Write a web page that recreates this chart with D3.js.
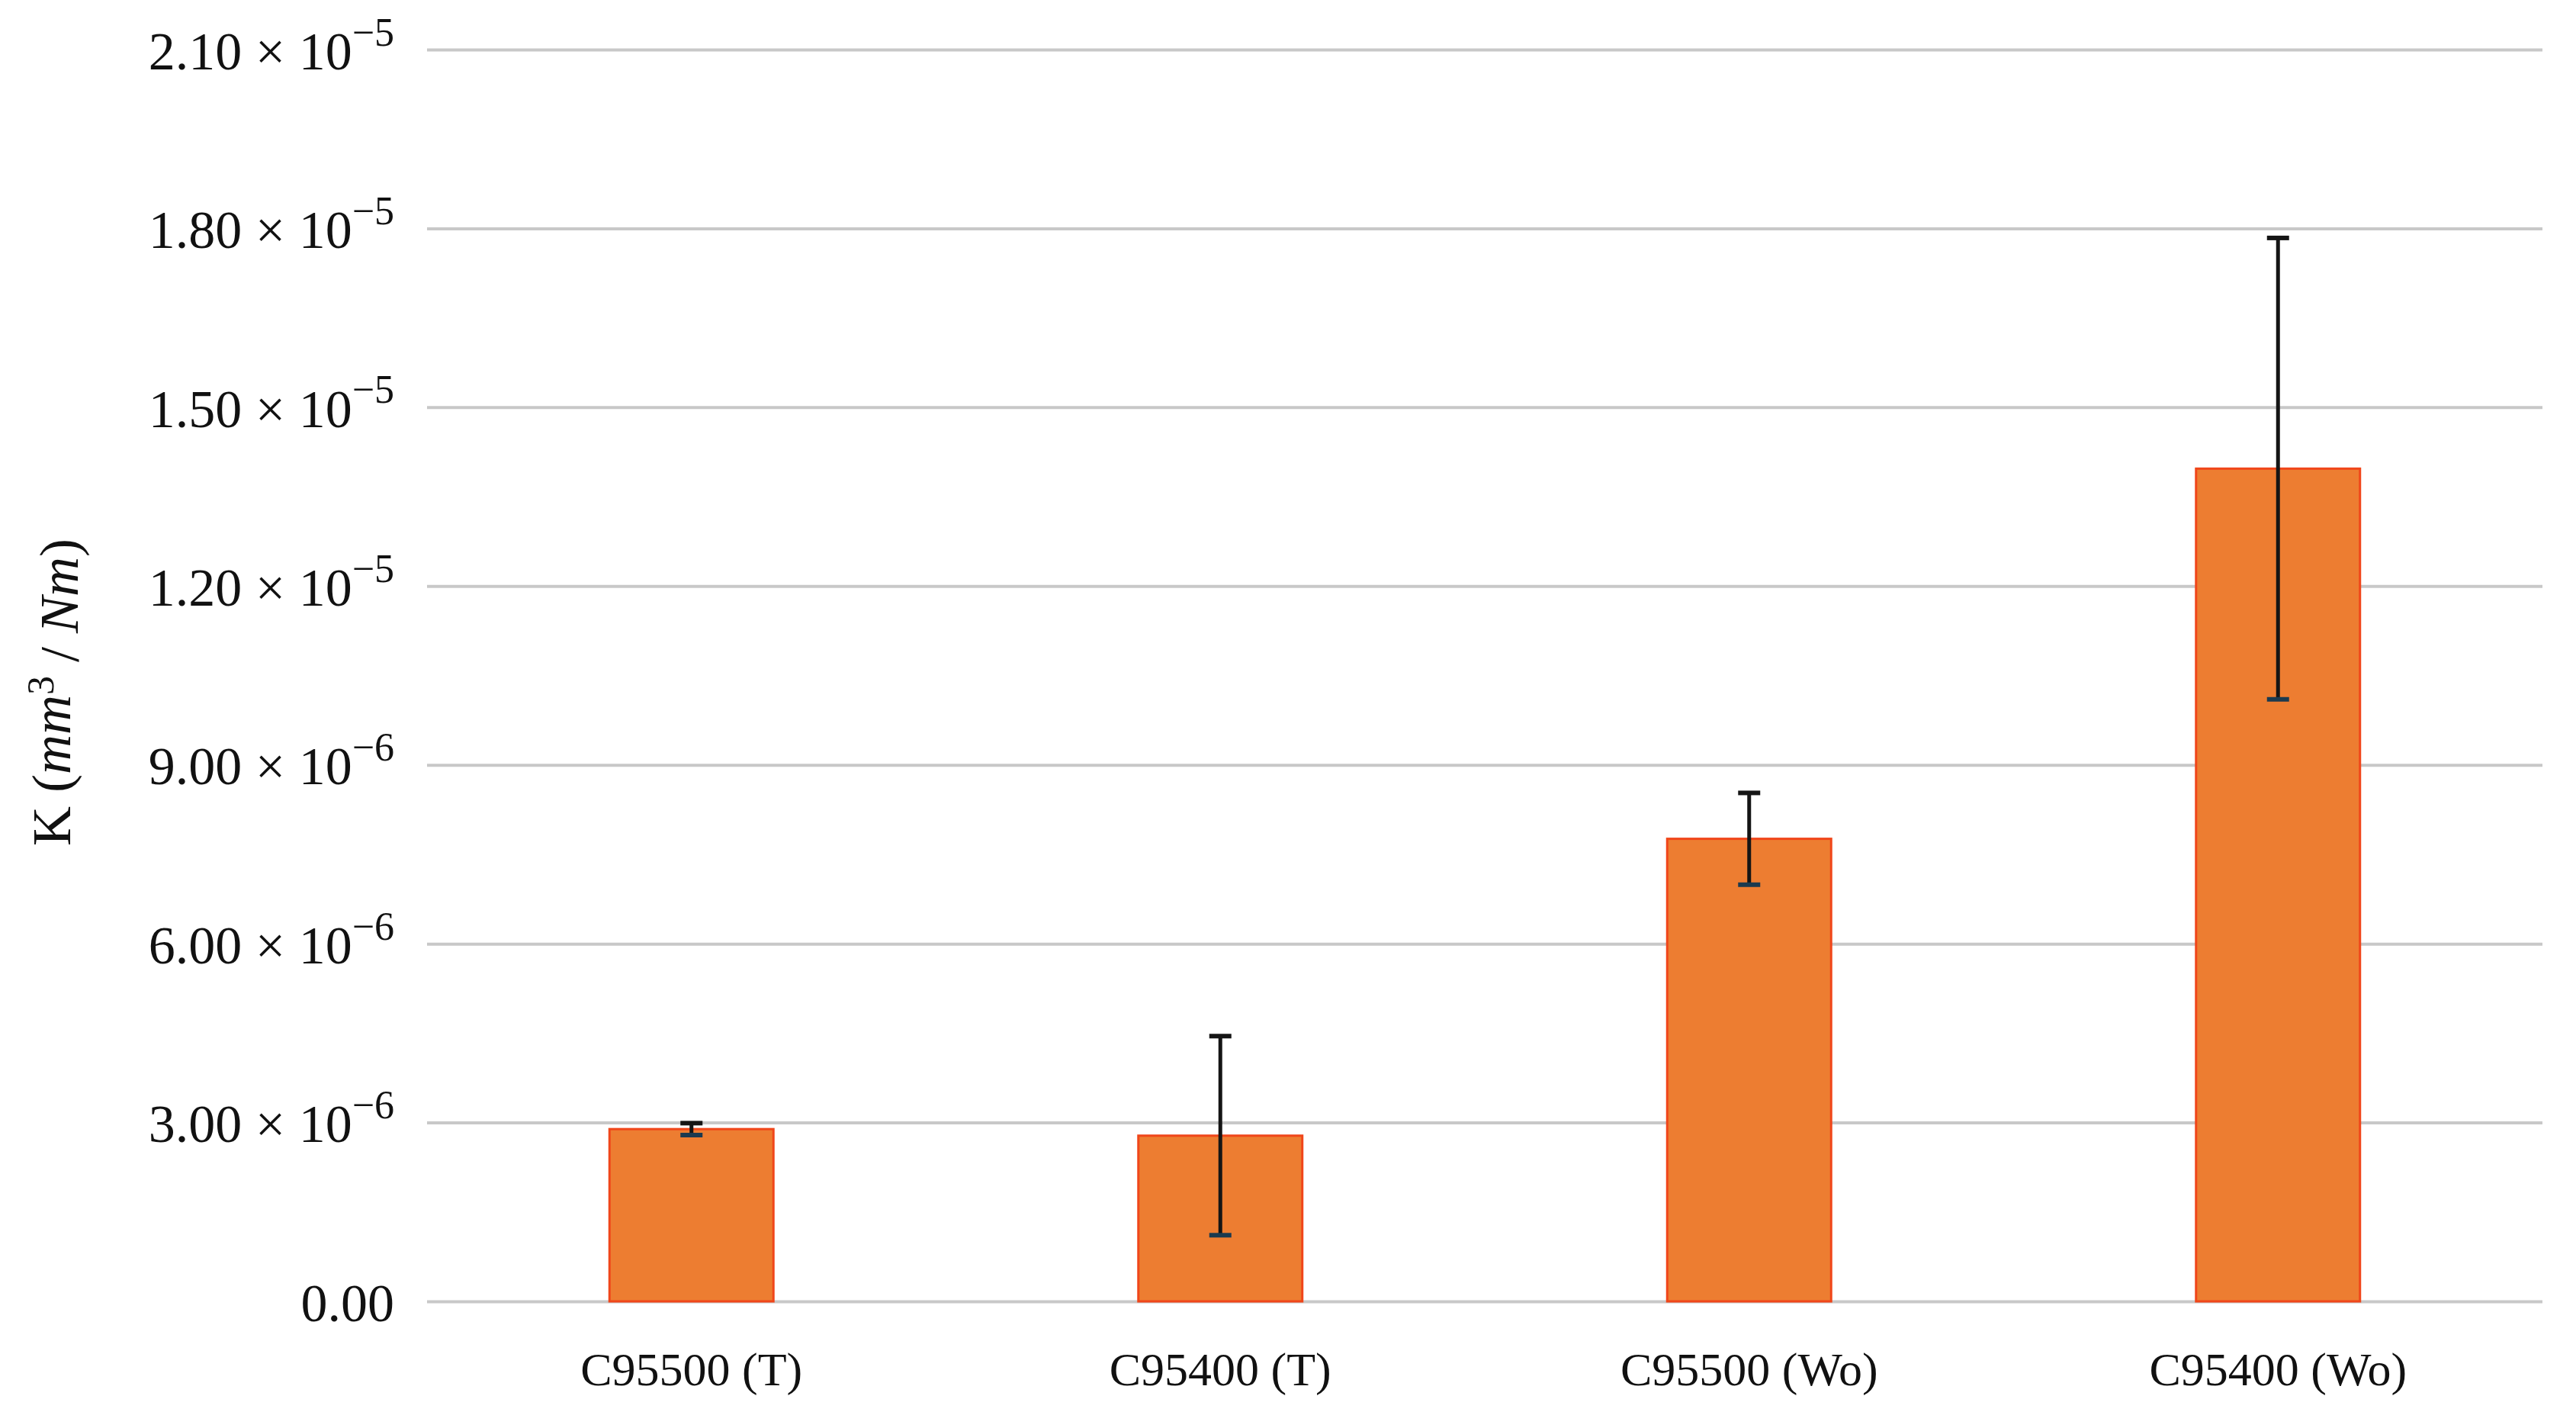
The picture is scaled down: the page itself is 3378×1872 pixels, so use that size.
<!DOCTYPE html>
<html>
<head>
<meta charset="utf-8">
<script src="https://cdn.jsdelivr.net/npm/d3@7"></script>
<style>
  body { margin: 0; background: #fff; }
  svg { display: block; }
</style>
</head>
<body>
<svg id="chart" width="3378" height="1872"></svg>
<script>
// data
const categories = ["C95500 (T)", "C95400 (T)", "C95500 (Wo)", "C95400 (Wo)"];
const values     = [2.89e-6, 2.78e-6, 7.76e-6, 1.397e-5];
const errors     = [0.10e-6, 1.67e-6, 0.77e-6, 3.87e-6];
const tickValues = [0, 3e-6, 6e-6, 9e-6, 1.2e-5, 1.5e-5, 1.8e-5, 2.1e-5];
const tickMant   = ["0.00", "3.00", "6.00", "9.00", "1.20", "1.50", "1.80", "2.10"];
const tickExp    = [null, "−6", "−6", "−6", "−5", "−5", "−5", "−5"];

const svg    = d3.select("#chart"),
      margin = {top: 65, right: 44, bottom: 166, left: 560},
      width  = +svg.attr("width")  - margin.left - margin.right,
      height = +svg.attr("height") - margin.top  - margin.bottom,
      x      = d3.scaleBand().domain(categories).range([0, width]),
      y      = d3.scaleLinear().domain([0, 2.1e-5]).range([height, 0]),
      g      = svg.append("g")
                  .attr("transform", `translate(${margin.left},${margin.top})`);

const font = "'Liberation Serif', 'DejaVu Serif', serif";
const barW = x.bandwidth() * 0.31;

// gridlines + y labels
const yAxis = g.append("g")
    .attr("class", "axis axis-y")
    .call(d3.axisLeft(y).tickValues(tickValues).tickSize(-width).tickFormat(""));
yAxis.select(".domain").remove();
yAxis.selectAll(".tick line")
    .attr("stroke", "#c8c8c8")
    .attr("stroke-width", 4);

yAxis.selectAll(".tick").each(function(d, i) {
  const t = d3.select(this).append("text")
      .attr("x", -43)
      .attr("dy", "0.36em")
      .attr("text-anchor", "end")
      .attr("fill", "#111")
      .style("font-family", font)
      .style("font-size", "70px");
  t.append("tspan").text(tickMant[i]);
  if (tickExp[i]) {
    t.append("tspan").text(" × 10");
    t.append("tspan")
      .attr("dy", "-0.6em")
      .style("font-size", "52px")
      .text(tickExp[i]);
  }
});

// bars
g.selectAll(".bar")
  .data(values)
  .enter().append("rect")
    .attr("class", "bar")
    .attr("x", (d, i) => x(categories[i]) + (x.bandwidth() - barW) / 2)
    .attr("y", d => y(d))
    .attr("width", barW)
    .attr("height", d => height - y(d))
    .attr("fill", "#ed7d31")
    .attr("stroke", "#f0461a")
    .attr("stroke-width", 3);

// error bars
const cap = 29;
const eb = g.selectAll(".err")
  .data(values)
  .enter().append("g")
    .attr("class", "err")
    .attr("transform", (d, i) => `translate(${x(categories[i]) + x.bandwidth() / 2},0)`);
eb.append("line")
    .attr("y1", (d, i) => y(d + errors[i]))
    .attr("y2", (d, i) => y(d - errors[i]))
    .attr("stroke", "#151515")
    .attr("stroke-width", 5);
eb.append("line")
    .attr("x1", -cap / 2).attr("x2", cap / 2)
    .attr("y1", (d, i) => y(d + errors[i]))
    .attr("y2", (d, i) => y(d + errors[i]))
    .attr("stroke", "#151515")
    .attr("stroke-width", 6);
eb.append("line")
    .attr("x1", -cap / 2).attr("x2", cap / 2)
    .attr("y1", (d, i) => y(d - errors[i]))
    .attr("y2", (d, i) => y(d - errors[i]))
    .attr("stroke", "#1b3a4f")
    .attr("stroke-width", 6);

// x labels
const xAxis = g.append("g")
    .attr("class", "axis axis-x")
    .attr("transform", `translate(0,${height})`)
    .call(d3.axisBottom(x).tickSize(0).tickPadding(0));
xAxis.select(".domain").remove();
xAxis.selectAll(".tick text")
    .attr("y", 110)
    .attr("dy", 0)
    .attr("fill", "#111")
    .style("font-family", font)
    .style("font-size", "62px");

// y title
const title = svg.append("text")
    .attr("transform", `translate(92,${margin.top + height / 2 + 22}) rotate(-90)`)
    .attr("text-anchor", "middle")
    .attr("fill", "#111")
    .style("font-family", font)
    .style("font-size", "72px");
title.append("tspan").text("K (");
title.append("tspan").style("font-style", "italic").text("mm");
title.append("tspan").attr("dy", "-0.45em").style("font-size", "50px").text("3");
title.append("tspan").attr("dy", "0.45em").text(" / ");
title.append("tspan").style("font-style", "italic").text("Nm");
title.append("tspan").text(")");
</script>
</body>
</html>
